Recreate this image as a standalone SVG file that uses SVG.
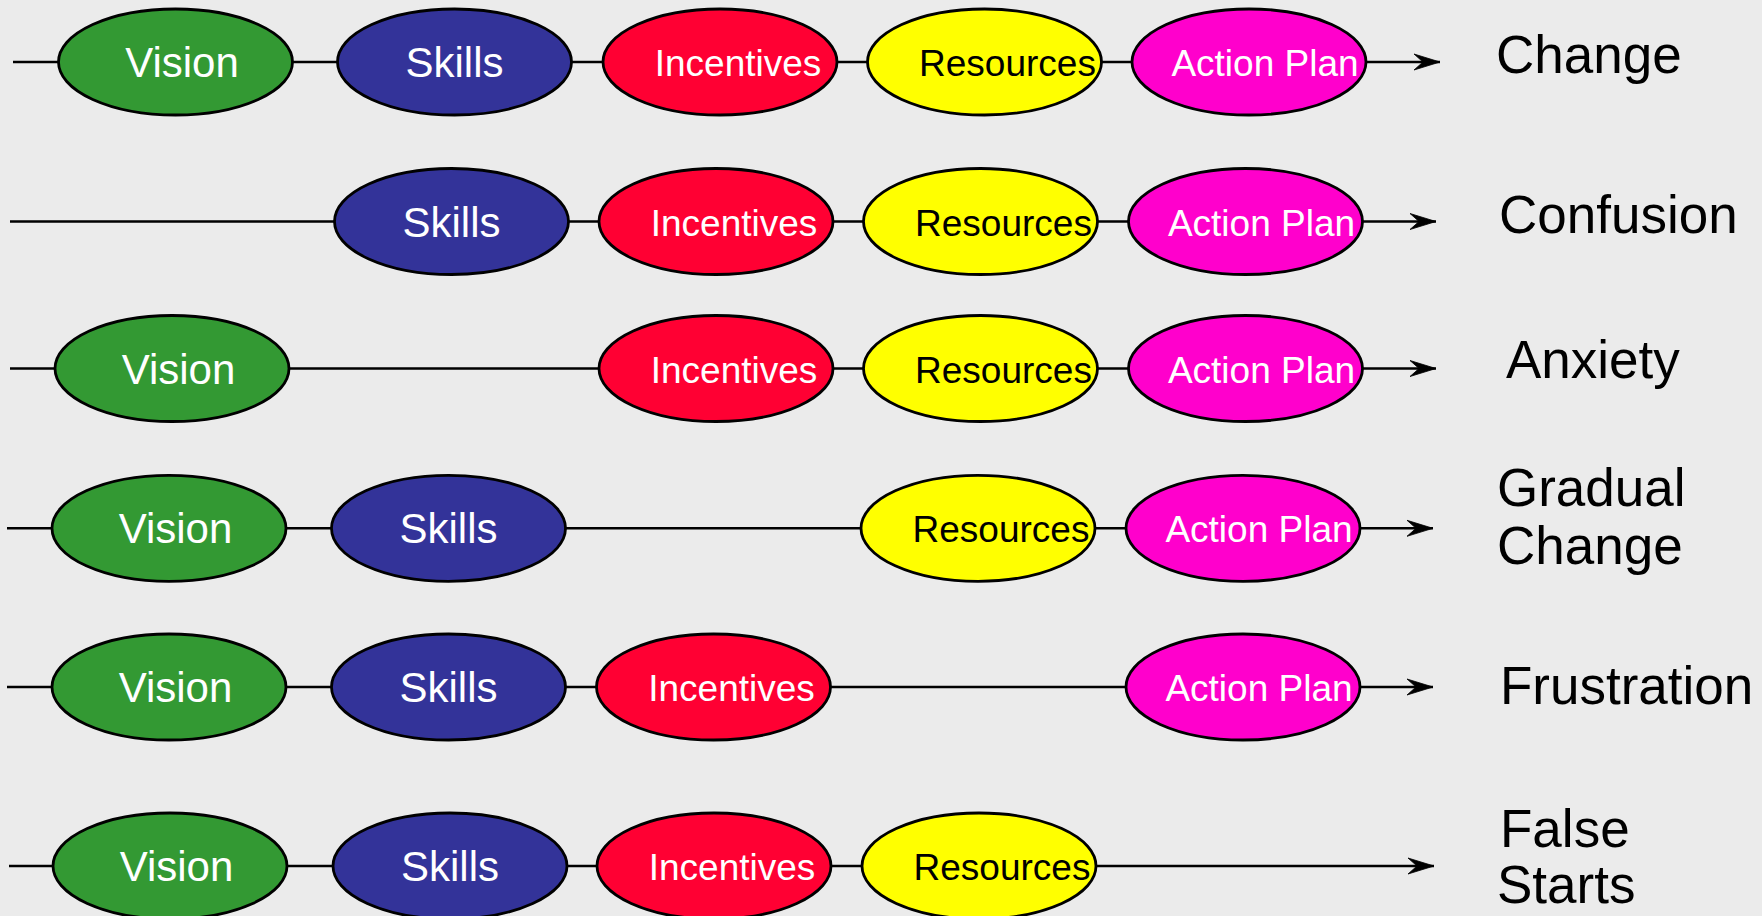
<svg xmlns="http://www.w3.org/2000/svg" width="1762" height="916" viewBox="0 0 1762 916">
<defs>
<style>
.ln{stroke:#000;stroke-width:2.6;fill:none}
.el{stroke:#000;stroke-width:2.8}
.vis{fill:#339933}.ski{fill:#333399}.inc{fill:#ff0033}.res{fill:#ffff00}.act{fill:#ff00cc}
.big{font-family:"Liberation Sans",Arial,sans-serif;font-size:42px;fill:#fff;text-anchor:middle}
.sm{font-family:"Liberation Sans",Arial,sans-serif;font-size:37px;fill:#fff;text-anchor:middle}
.blk{fill:#000}
.lab{font-family:"Liberation Sans",Arial,sans-serif;font-size:53px;fill:#000}
</style>
<marker id="arr" markerUnits="userSpaceOnUse" markerWidth="30" markerHeight="20" refX="26" refY="8" orient="auto" viewBox="0 0 30 16">
<path d="M26,8 L0,0 L9,8 L0,16 Z" fill="#000" stroke="#000" stroke-width="0.8" stroke-linejoin="miter"/>
</marker>
</defs>
<rect width="1762" height="916" fill="#ebebeb"/>
<g id="connectors">
<line class="ln" x1="13" y1="62" x2="1440" y2="62" marker-end="url(#arr)"/>
<line class="ln" x1="10" y1="221.5" x2="1436" y2="221.5" marker-end="url(#arr)"/>
<line class="ln" x1="10" y1="368.5" x2="1436" y2="368.5" marker-end="url(#arr)"/>
<line class="ln" x1="7" y1="528.3" x2="1433" y2="528.3" marker-end="url(#arr)"/>
<line class="ln" x1="7" y1="687" x2="1433" y2="687" marker-end="url(#arr)"/>
<line class="ln" x1="9" y1="866" x2="1434" y2="866" marker-end="url(#arr)"/>
</g>
<g id="row1">
<g id="r1-vision"><ellipse class="el vis" cx="175.5" cy="62" rx="117" ry="53"/><text class="big" x="182" y="77">Vision</text></g>
<g id="r1-skills"><ellipse class="el ski" cx="454.5" cy="62" rx="117" ry="53"/><text class="big" x="454.5" y="77">Skills</text></g>
<g id="r1-incentives"><ellipse class="el inc" cx="720" cy="62" rx="117" ry="53"/><text class="sm" x="738" y="76">Incentives</text></g>
<g id="r1-resources"><ellipse class="el res" cx="984.5" cy="62" rx="117" ry="53"/><text class="sm blk" x="1007.5" y="76">Resources</text></g>
<g id="r1-action"><ellipse class="el act" cx="1249" cy="62" rx="117" ry="53"/><text class="sm" x="1265" y="76">Action Plan</text></g>
<g id="r1-label"><text class="lab" x="1496" y="73">Change</text></g>
</g>
<g id="row2">
<g id="r2-skills"><ellipse class="el ski" cx="451.5" cy="221.5" rx="117" ry="53"/><text class="big" x="451.5" y="236.5">Skills</text></g>
<g id="r2-incentives"><ellipse class="el inc" cx="716" cy="221.5" rx="117" ry="53"/><text class="sm" x="734" y="235.5">Incentives</text></g>
<g id="r2-resources"><ellipse class="el res" cx="980.5" cy="221.5" rx="117" ry="53"/><text class="sm blk" x="1003.5" y="235.5">Resources</text></g>
<g id="r2-action"><ellipse class="el act" cx="1245.5" cy="221.5" rx="117" ry="53"/><text class="sm" x="1261.5" y="235.5">Action Plan</text></g>
<g id="r2-label"><text class="lab" x="1499" y="233">Confusion</text></g>
</g>
<g id="row3">
<g id="r3-vision"><ellipse class="el vis" cx="172" cy="368.5" rx="117" ry="53"/><text class="big" x="178.5" y="383.5">Vision</text></g>
<g id="r3-incentives"><ellipse class="el inc" cx="716" cy="368.5" rx="117" ry="53"/><text class="sm" x="734" y="382.5">Incentives</text></g>
<g id="r3-resources"><ellipse class="el res" cx="980.5" cy="368.5" rx="117" ry="53"/><text class="sm blk" x="1003.5" y="382.5">Resources</text></g>
<g id="r3-action"><ellipse class="el act" cx="1245.5" cy="368.5" rx="117" ry="53"/><text class="sm" x="1261.5" y="382.5">Action Plan</text></g>
<g id="r3-label"><text class="lab" x="1506" y="378">Anxiety</text></g>
</g>
<g id="row4">
<g id="r4-vision"><ellipse class="el vis" cx="169" cy="528.3" rx="117" ry="53"/><text class="big" x="175.5" y="543.3">Vision</text></g>
<g id="r4-skills"><ellipse class="el ski" cx="448.5" cy="528.3" rx="117" ry="53"/><text class="big" x="448.5" y="543.3">Skills</text></g>
<g id="r4-resources"><ellipse class="el res" cx="978" cy="528.3" rx="117" ry="53"/><text class="sm blk" x="1001" y="542.3">Resources</text></g>
<g id="r4-action"><ellipse class="el act" cx="1243" cy="528.3" rx="117" ry="53"/><text class="sm" x="1259" y="542.3">Action Plan</text></g>
<g id="r4-label"><text class="lab" x="1497" y="506">Gradual</text><text class="lab" x="1497" y="564">Change</text></g>
</g>
<g id="row5">
<g id="r5-vision"><ellipse class="el vis" cx="169" cy="687" rx="117" ry="53"/><text class="big" x="175.5" y="702">Vision</text></g>
<g id="r5-skills"><ellipse class="el ski" cx="448.5" cy="687" rx="117" ry="53"/><text class="big" x="448.5" y="702">Skills</text></g>
<g id="r5-incentives"><ellipse class="el inc" cx="713.5" cy="687" rx="117" ry="53"/><text class="sm" x="731.5" y="701">Incentives</text></g>
<g id="r5-action"><ellipse class="el act" cx="1243" cy="687" rx="117" ry="53"/><text class="sm" x="1259" y="701">Action Plan</text></g>
<g id="r5-label"><text class="lab" x="1500" y="704">Frustration</text></g>
</g>
<g id="row6">
<g id="r6-vision"><ellipse class="el vis" cx="170" cy="866" rx="117" ry="53"/><text class="big" x="176.5" y="881">Vision</text></g>
<g id="r6-skills"><ellipse class="el ski" cx="450" cy="866" rx="117" ry="53"/><text class="big" x="450" y="881">Skills</text></g>
<g id="r6-incentives"><ellipse class="el inc" cx="714" cy="866" rx="117" ry="53"/><text class="sm" x="732" y="880">Incentives</text></g>
<g id="r6-resources"><ellipse class="el res" cx="979" cy="866" rx="117" ry="53"/><text class="sm blk" x="1002" y="880">Resources</text></g>
<g id="r6-label"><text class="lab" x="1500" y="847">False</text><text class="lab" x="1497" y="903">Starts</text></g>
</g>
</svg>
